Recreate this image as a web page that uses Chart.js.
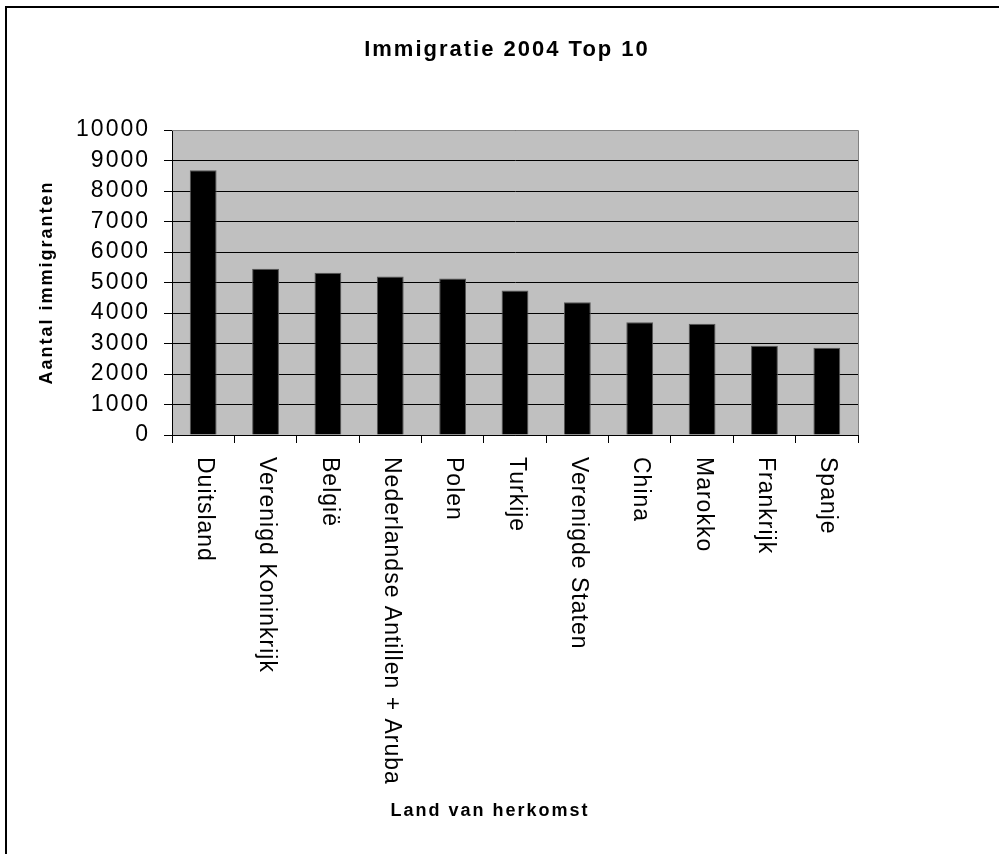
<!DOCTYPE html>
<html>
<head>
<meta charset="utf-8">
<script src="https://cdn.jsdelivr.net/npm/chart.js@4.4.1/dist/chart.umd.min.js"></script>
<style>
  html, body { margin: 0; padding: 0; background: #fff; }
  #wrap { width: 999px; height: 854px; }
</style>
</head>
<body>
<div id="wrap"><canvas id="chart" width="999" height="854"></canvas></div>
<script>
const countries = ['Duitsland', 'Verenigd Koninkrijk', 'België', 'Nederlandse Antillen + Aruba', 'Polen',
  'Turkije', 'Verenigde Staten', 'China', 'Marokko', 'Frankrijk', 'Spanje'];
const immigrants = [8680, 5450, 5320, 5200, 5130, 4740, 4350, 3700, 3650, 2930, 2860];
const yTicks = [0, 1000, 2000, 3000, 4000, 5000, 6000, 7000, 8000, 9000, 10000];

const chartTitle = 'Immigratie 2004 Top 10';
const xTitle = 'Land van herkomst';
const yTitle = 'Aantal immigranten';

const FONT = "'Liberation Sans', Arial, sans-serif";

// grey plot area, black frame, titles and rotated category labels
const excelLook = {
  id: 'excelLook',
  beforeDraw(chart) {
    const { ctx, chartArea: a } = chart;
    ctx.save();
    ctx.fillStyle = '#c0c0c0';
    ctx.fillRect(a.left, a.top, a.right - a.left, a.bottom - a.top);
    ctx.restore();
    ctx.letterSpacing = '2px';
  },
  beforeDatasetsDraw(chart) {
    const { ctx, chartArea: a } = chart;
    ctx.save();
    ctx.strokeStyle = '#808080';
    ctx.lineWidth = 1;
    ctx.beginPath();
    ctx.moveTo(a.left, a.top + 0.5);
    ctx.lineTo(a.right + 0.5, a.top + 0.5);
    ctx.lineTo(a.right + 0.5, a.bottom);
    ctx.stroke();
    ctx.restore();
  },
  afterDraw(chart) {
    const { ctx, chartArea: a } = chart;
    const x = chart.scales.x;
    ctx.save();
    ctx.fillStyle = '#000';

    ctx.letterSpacing = '2px';
    ctx.textAlign = 'center';
    ctx.textBaseline = 'alphabetic';
    ctx.font = 'bold 22px ' + FONT;
    ctx.fillText(chartTitle, 507, 56);
    ctx.font = 'bold 18px ' + FONT;
    ctx.fillText(xTitle, 490, 816);

    ctx.letterSpacing = '1px';
    ctx.font = '23px ' + FONT;
    ctx.textAlign = 'left';
    ctx.textBaseline = 'middle';
    countries.forEach((c, i) => {
      ctx.save();
      ctx.translate(x.getPixelForValue(i) + 1, a.bottom + 22);
      ctx.rotate(Math.PI / 2);
      ctx.fillText(c, 0, 0);
      ctx.restore();
    });

    ctx.fillRect(5, 6, 2, 848);
    ctx.fillRect(5, 6, 994, 2);
    ctx.restore();
  }
};

new Chart(document.getElementById('chart').getContext('2d'), {
  type: 'bar',
  data: {
    labels: countries,
    datasets: [{
      data: immigrants,
      backgroundColor: '#000',
      borderColor: '#555',
      borderWidth: 1,
      barPercentage: 0.43,
      categoryPercentage: 1,
    }],
  },
  options: {
    responsive: false,
    animation: false,
    layout: { padding: { left: 0, right: 141, top: 130, bottom: 0 } },
    plugins: {
      legend: { display: false },
      tooltip: { enabled: false },
      title: { display: false },
    },
    scales: {
      x: {
        offset: true,
        grid: { drawOnChartArea: false, drawTicks: true, tickLength: 8, color: '#000', offset: true },
        border: { color: '#000', width: 1 },
        ticks: { display: false },
        afterFit(scale) { scale.height = 419; },
      },
      y: {
        min: 0,
        max: 10000,
        afterBuildTicks(scale) { scale.ticks = yTicks.map(v => ({ value: v })); },
        grid: { color: '#000', tickLength: 8, lineWidth: 1 },
        border: { color: '#000', width: 1 },
        ticks: {
          color: '#000',
          padding: 14,
          autoSkip: false,
          font: { family: FONT, size: 23 },
          callback: v => String(v),
        },
        title: {
          display: true,
          text: yTitle,
          color: '#000',
          font: { family: FONT, size: 18, weight: 'bold' },
          padding: { top: 36, bottom: 0 },
        },
        afterFit(scale) { scale.width = 172; },
      },
    },
  },
  plugins: [excelLook],
});
</script>
</body>
</html>
